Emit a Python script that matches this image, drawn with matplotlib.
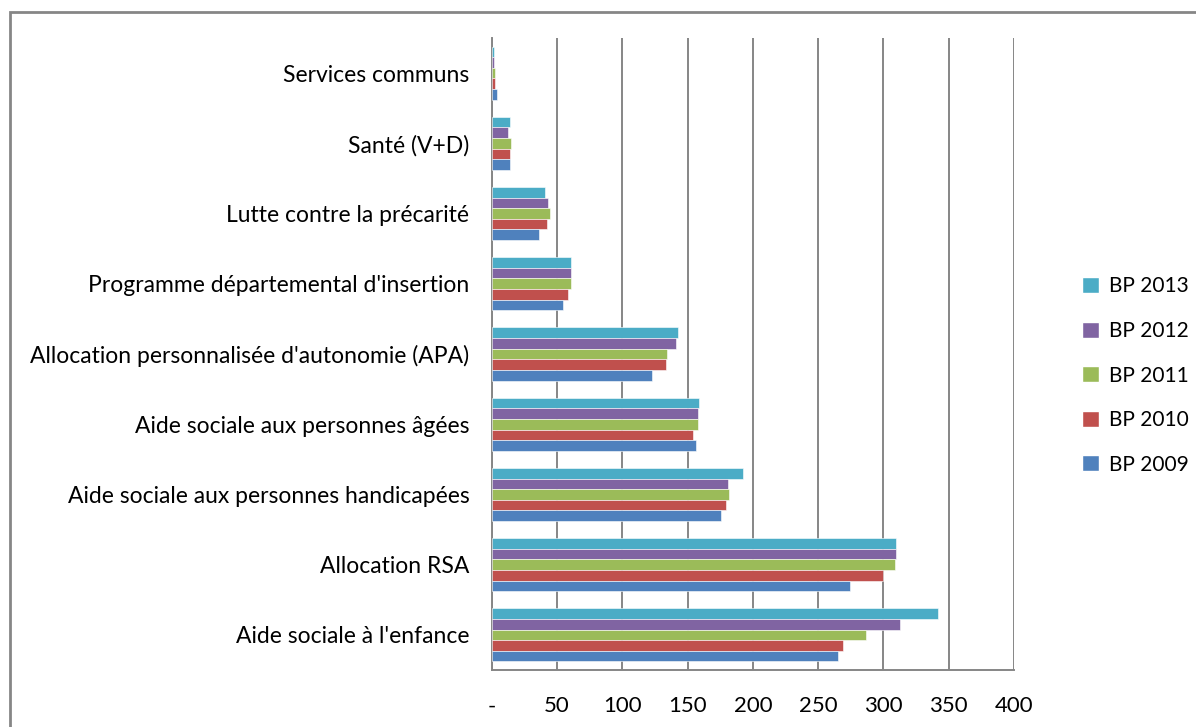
import matplotlib.pyplot as plt
from matplotlib.patches import Rectangle, Patch
import numpy as np

plt.rcParams['font.family'] = ['Lato', 'DejaVu Sans']

categories = [
    "Services communs",
    "Santé (V+D)",
    "Lutte contre la précarité",
    "Programme départemental d'insertion",
    "Allocation personnalisée d'autonomie (APA)",
    "Aide sociale aux personnes âgées",
    "Aide sociale aux personnes handicapées",
    "Allocation RSA",
    "Aide sociale à l'enfance",
]

# budget per line, one list per year (same order as categories)
bp_2013 = [1.8, 14.3, 40.8, 60.8, 142.8, 159.1, 192.7, 309.8, 341.8]
bp_2012 = [1.5, 12.5, 43.4, 60.8, 140.9, 158.1, 180.7, 309.8, 312.6]
bp_2011 = [2.8, 14.8, 44.5, 61.0, 134.3, 158.1, 181.7, 309.0, 286.3]
bp_2010 = [2.5, 13.8, 42.7, 58.6, 133.3, 154.5, 179.6, 299.8, 269.0]
bp_2009 = [4.3, 13.8, 36.5, 54.8, 122.9, 156.6, 175.3, 274.6, 265.4]

series = [
    ("BP 2013", bp_2013, "#4BACC6"),
    ("BP 2012", bp_2012, "#8064A2"),
    ("BP 2011", bp_2011, "#9BBB59"),
    ("BP 2010", bp_2010, "#C0504D"),
    ("BP 2009", bp_2009, "#4F81BD"),
]

xticks = [0, 50, 100, 150, 200, 250, 300, 350, 400]
xticklabels = ["-", "50", "100", "150", "200", "250", "300", "350", "400"]

W, H = 1196, 727
fig = plt.figure(figsize=(W / 100, H / 100), dpi=100)
ax = fig.add_axes([491.7 / W, 1 - 670 / H, (1014 - 491.7) / W, (670 - 38) / H])

grid_col = "#868686"
h = 0.151
y = np.arange(len(categories))
for k, (name, vals, col) in enumerate(series):
    ax.barh(y + (k - 2) * h, vals, height=h, color=col, edgecolor="white",
            linewidth=0.4, label=name, zorder=3)

ax.set_ylim(len(categories) - 0.5, -0.5)
ax.set_xlim(0, 400)
ax.set_xticks(xticks)
ax.set_xticklabels(xticklabels)
ax.set_yticks(y)
ax.set_yticklabels(categories)
ax.tick_params(axis="both", length=0, colors="#000000")
ax.tick_params(axis="x", pad=19, labelsize=16)
ax.tick_params(axis="y", pad=16, labelsize=16.5)
ax.xaxis.grid(True, color=grid_col, linewidth=1.4, zorder=0)
ax.set_axisbelow(True)
for s in ("top", "right"):
    ax.spines[s].set_visible(False)
for s in ("left", "bottom"):
    ax.spines[s].set_color(grid_col)
    ax.spines[s].set_linewidth(1.4)

handles = [Patch(facecolor=col, edgecolor="white", label=name) for name, _, col in series]
fig.legend(handles=handles, loc="upper left", bbox_to_anchor=(1074 / W, 1 - 268 / H),
           frameon=False, fontsize=15, handlelength=0.8, handleheight=0.8,
           handletextpad=0.5, labelspacing=1.18, borderaxespad=0)

# chart frame
fig.add_artist(Rectangle((10 / W, -0.5), 2, 0.5 + 1 - 12 / H, transform=fig.transFigure,
                         fill=False, edgecolor=grid_col, linewidth=2))

fig.savefig("out.png", dpi=100)
